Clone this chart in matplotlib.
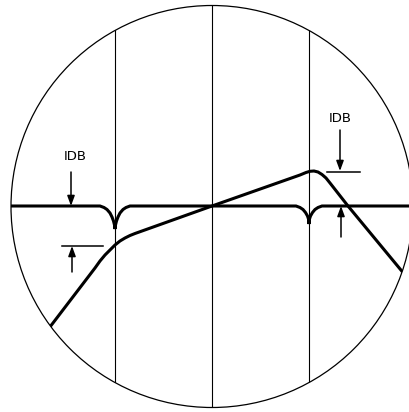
import numpy as np
import matplotlib
matplotlib.use('agg')
import matplotlib.pyplot as plt
from matplotlib.patches import Circle

# screen geometry, pixel units (y grows downwards)
center = (212, 206.5)
radius = 201
grid_x = [115, 212, 309]

# flat trace with the two notches
flat_x = [0, 100, 104, 107, 110, 112, 113.5, 114.5, 115, 115.5, 116.5, 118, 120, 123, 126, 130,
          296, 300, 303, 305.5, 307.5, 308.5, 309, 309.5, 310.5, 312.5, 315, 318, 322, 420]
flat_y = [206, 206, 207.5, 209.5, 213, 217, 221, 225, 229, 225, 221, 217, 213, 209.5, 207.5, 206,
          206, 207.5, 209.5, 212.5, 216, 219, 224, 219, 216, 212.5, 209.5, 207.5, 206, 206]

# sloped response trace
resp_x = [40, 95, 100, 105, 110, 115, 120, 125, 130, 135, 212, 300, 306, 310, 314, 318, 322, 326, 330, 348, 410]
resp_y = [340, 268, 261, 255, 250, 245, 241, 238, 235.5, 233.5, 206, 175, 172.5, 171.3, 171, 172, 174.5, 178, 183, 206, 281]

# 1 dB markers: (x, arrow tail y, arrow tip y)
markers = [(71, 172, 206), (72, 272, 246), (340, 130, 171), (341, 237, 206)]
ref_bars = [(62, 103, 246), (327, 360, 171.5)]
labels = [("IDB", 75, 156), ("IDB", 340, 118)]

fig = plt.figure(figsize=(4.09, 4.12), dpi=100)
ax = fig.add_axes([0, 0, 1, 1])
ax.set_xlim(0, 409)
ax.set_ylim(412, 0)
ax.axis('off')

circ = Circle(center, radius, fill=False, color='black', lw=0.9)
ax.add_patch(circ)
clip = Circle(center, radius, transform=ax.transData)

for gx in grid_x:
    ln = ax.axvline(gx, color='black', lw=0.8)
    ln.set_clip_path(clip)

l1, = ax.plot(flat_x, flat_y, color='black', lw=2.2, solid_joinstyle='miter')
l2, = ax.plot(resp_x, resp_y, color='black', lw=2.2, solid_joinstyle='round')
l1.set_clip_path(clip)
l2.set_clip_path(clip)

for x0, x1, y in ref_bars:
    ax.plot([x0, x1], [y, y], color='black', lw=1.1)

for x, ytail, ytip in markers:
    ax.annotate('', xy=(x, ytip), xytext=(x, ytail),
                arrowprops=dict(arrowstyle='-|>,head_length=0.6,head_width=0.22',
                                color='black', lw=1.1, shrinkA=0, shrinkB=0))

for s, x, y in labels:
    ax.text(x, y, s, ha='center', va='center', fontsize=9.5, family='DejaVu Sans')

fig.savefig('out.png', dpi=100)
